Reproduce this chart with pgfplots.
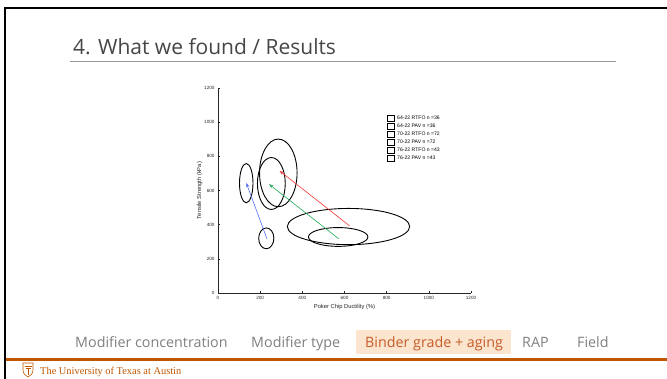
\documentclass[border=0pt]{standalone}
\usepackage{pgfplots}
\pgfplotsset{compat=1.18}
\usepackage{fontspec}
\setmainfont{Open Sans}
\newfontfamily\arial{Liberation Sans}
\newfontfamily\serifut{Liberation Serif}
\usetikzlibrary{arrows.meta}
\definecolor{utorange}{RGB}{191,87,0}
\definecolor{axisgray}{RGB}{38,38,38}
\definecolor{titlegray}{RGB}{70,70,70}
\definecolor{tabgray}{RGB}{128,128,128}
\definecolor{hlfill}{RGB}{251,229,207}
\definecolor{hltext}{RGB}{199,92,40}
\definecolor{arrblue}{RGB}{80,110,250}
\definecolor{arrgreen}{RGB}{30,170,90}
\definecolor{arrred}{RGB}{245,55,55}
\begin{document}
\begin{tikzpicture}
\useasboundingbox (0,0) rectangle (667bp,379bp);
\fill[white] (0,0) rectangle (667bp,379bp);
% frame
\draw[black, line width=2.5bp] (5bp,0) -- (5bp,371bp) -- (667bp,371bp);
% title
\node[anchor=base west, inner sep=0, text=titlegray, font=\fontsize{21bp}{24bp}\selectfont] at (73bp,324bp) {4. What we found / Results};
\draw[gray!80, line width=1bp] (70bp,317bp) -- (616bp,317bp);
% tabs
\fill[hlfill] (356bp,25bp) rectangle (511bp,49bp);
\begin{scope}[every node/.style={anchor=base west, inner sep=0, font=\fontsize{14.3bp}{16bp}\selectfont}]
\node[text=tabgray] at (75bp,32bp) {Modifier concentration};
\node[text=tabgray] at (251bp,32bp) {Modifier type};
\node[text=hltext] at (365bp,32bp) {Binder grade + aging};
\node[text=tabgray] at (522bp,32bp) {RAP};
\node[text=tabgray] at (577bp,32bp) {Field};
\end{scope}
\draw[utorange, line width=2.5bp] (6bp,19.5bp) -- (667bp,19.5bp);
% footer
\draw[utorange, line width=0.6bp] (23bp,16bp) -- (33bp,16bp) -- (33bp,9bp) .. controls (33bp,5bp) and (30bp,3bp) .. (28bp,2bp) .. controls (26bp,3bp) and (23bp,5bp) .. (23bp,9bp) -- cycle;
\draw[utorange, line width=0.4bp] (24.5bp,13bp) -- (31.5bp,13bp) (25.5bp,11bp) -- (30.5bp,11bp) (28bp,4bp) -- (28bp,10bp);
\node[anchor=base west, inner sep=0, text=utorange, font=\serifut\fontsize{10.4bp}{12bp}\selectfont] at (40bp,5bp) {The University of Texas at Austin};
\begin{axis}[
  at={(218bp,86bp)}, anchor=south west, scale only axis,
  width=253bp, height=205bp,
  xmin=0, xmax=1200, ymin=0, ymax=1200,
  axis x line*=bottom, axis y line*=left,
  axis line style={line width=0.8bp, draw=axisgray},
  xtick={0,200,...,1200}, ytick={0,200,...,1200},
  tick align=inside, major tick length=2bp,
  tick style={line width=0.6bp, draw=axisgray},
  ticklabel style={font=\arial\fontsize{4.6bp}{5bp}\selectfont, text=axisgray},
  /pgf/number format/assume math mode=true,
  /pgf/number format/1000 sep={},
  xlabel={Poker Chip Ductility (\%)},
  ylabel={Tensile Strength (kPa)},
  label style={font=\arial\fontsize{5.8bp}{6.5bp}\selectfont, text=axisgray},
  xlabel style={yshift=2bp},
  ylabel style={yshift=-5bp},
  legend style={at={(0.666,0.868)}, anchor=north west, draw=none, fill=none,
     font=\arial\fontsize{5.1bp}{5.5bp}\selectfont, inner sep=0pt,
     nodes={inner sep=0.5bp, text height=3.7bp, text depth=1.2bp}, row sep=1.3bp},
  legend cell align=left,
  legend image code/.code={\draw[black, line width=0.7bp] (0bp,-3bp) rectangle (7bp,3bp);
     \path (9.5bp,0bp);},
  clip=false,
]
\addlegendimage{}\addlegendentry{64-22 RTFO n =36}
\addlegendimage{}\addlegendentry{64-22 PAV n =36}
\addlegendimage{}\addlegendentry{70-22 RTFO n =72}
\addlegendimage{}\addlegendentry{70-22 PAV n =72}
\addlegendimage{}\addlegendentry{76-22 RTFO n =43}
\addlegendimage{}\addlegendentry{76-22 PAV n =43}
% ellipses: center (x,y), radii in data units
\draw[black, line width=0.9bp] (axis cs:229,320) ellipse [x radius=36, y radius=61];
\draw[black, line width=0.9bp] (axis cs:134,643) ellipse [x radius=32, y radius=115];
\draw[black, line width=0.9bp] (axis cs:253,641) ellipse [x radius=66, y radius=152];
\draw[black, line width=0.9bp] (axis cs:286,703) ellipse [x radius=89, y radius=198];
\draw[black, line width=0.9bp] (axis cs:619,389) ellipse [x radius=290, y radius=106];
\draw[black, line width=0.9bp] (axis cs:570,328) ellipse [x radius=141, y radius=55];
% arrows
\addplot[arrblue, line width=0.6bp, -{Stealth[length=4.5bp,width=3.2bp]}] coordinates {(232,318) (134,645)};
\addplot[arrgreen, line width=0.6bp, -{Stealth[length=4.5bp,width=3.2bp]}] coordinates {(572,318) (242,637)};
\addplot[arrred, line width=0.6bp, -{Stealth[length=4.5bp,width=3.2bp]}] coordinates {(624,393) (292,715)};
\end{axis}
\end{tikzpicture}
\end{document}
